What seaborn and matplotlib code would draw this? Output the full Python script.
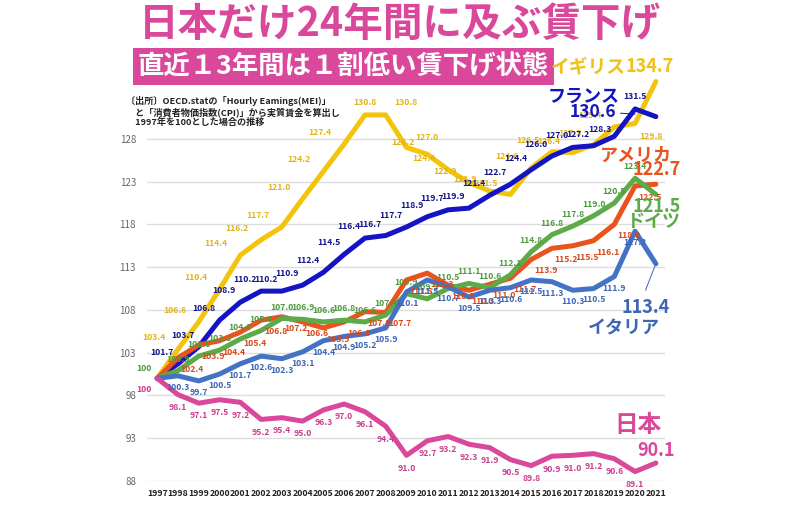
import matplotlib
matplotlib.use("Agg")
import matplotlib.pyplot as plt
import seaborn as sns
import pandas as pd
import numpy as np

years = list(range(1997, 2022))
japan = [100, 98.1, 97.1, 97.5, 97.2, 95.2, 95.4, 95.0, 96.3, 97.0, 96.1, 94.4, 91.0,
         92.7, 93.2, 92.3, 91.9, 90.5, 89.8, 90.9, 91.0, 91.2, 90.6, 89.1, 90.1]
italy = [100, 100.3, 99.7, 100.5, 101.7, 102.6, 102.3, 103.1, 104.4, 104.9, 105.2, 105.9, 110.1,
         111.5, 110.7, 109.5, 110.3, 110.6, 111.5, 111.3, 110.3, 110.5, 111.9, 117.2, 113.4]
france = [100, 101.7, 103.7, 106.8, 108.9, 110.2, 110.2, 110.9, 112.4, 114.5, 116.4, 116.7, 117.7,
          118.9, 119.7, 119.9, 121.4, 122.7, 124.4, 126.0, 127.0, 127.2, 128.3, 131.5, 130.6]
uk = [100, 103.4, 106.6, 110.4, 114.4, 116.2, 117.7, 121.0, 124.2, 127.4, 130.8, 130.8, 127.0,
      126.2, 124.4, 122.9, 121.9, 121.5, 124.6, 126.5, 126.4, 127.3, 129.4, 129.8, 134.7]
usa = [100, 102.4, 103.9, 104.4, 105.4, 106.8, 107.2, 106.6, 105.9, 106.6, 107.8, 107.7, 111.5,
       112.3, 110.9, 110.3, 111.0, 111.7, 113.9, 115.2, 115.5, 116.1, 118.0, 122.5, 122.7]
germany = [100, 100.9, 102.6, 103.3, 104.6, 105.6, 107.0, 106.9, 106.6, 106.8, 106.6, 107.4, 109.9,
           109.3, 110.5, 111.1, 110.6, 112.1, 114.8, 116.8, 117.8, 119.0, 120.5, 123.4, 121.5]

countries = ["イギリス", "フランス", "アメリカ", "ドイツ", "イタリア", "日本"]
series = [uk, france, usa, germany, italy, japan]
line_colors = ["#F2C40C", "#1414C4", "#E8531E", "#5CAA48", "#4472C4", "#D9489A"]
label_colors = ["#E3B31A", "#14148C", "#D8481A", "#4E9A3C", "#3D66B4", "#CC3F8E"]
yticks = [88, 93, 98, 103, 108, 113, 118, 123, 128]

df = pd.DataFrame({
    "year": years * len(countries),
    "value": sum(series, []),
    "country": sum([[c] * len(years) for c in countries], []),
})

sns.set_theme(style="white")
plt.rcParams["font.family"] = ["Noto Sans CJK JP", "DejaVu Sans"]

fig = plt.figure(figsize=(8, 5.13), dpi=100)
ax = fig.add_axes([0.184, 0.0624, 0.647, 0.7836])

sns.lineplot(data=df, x="year", y="value", hue="country", hue_order=countries,
             palette=dict(zip(countries, line_colors)), linewidth=3.6, ax=ax,
             legend=False, zorder=3)

ax.set_xlim(1996.52, 2021.43)
ax.set_ylim(88, 135)
ax.set_yticks(yticks)
ax.set_xticks(years)
ax.set_xticklabels([str(y) for y in years], fontsize=6.3, fontweight="bold", color="#222222")
ax.tick_params(axis="y", labelsize=7, labelcolor="#666666", length=0, pad=8)
ax.tick_params(axis="x", length=0, pad=6)
for y in yticks:
    ax.axhline(y, color="#DDDDDD", linewidth=1.0, zorder=1)
for s in ax.spines.values():
    s.set_visible(False)
ax.set_xlabel("")
ax.set_ylabel("")
ax.grid(False)

# point labels: offsets (points) per series, with a few per-point overrides
offsets = {
    "イギリス": (-9, 5, "right", "bottom"),
    "フランス": (-3, 5, "right", "bottom"),
    "アメリカ": (2, -5, "left", "top"),
    "ドイツ": (0, 5, "center", "bottom"),
    "イタリア": (0, -5, "center", "top"),
    "日本": (0, -6, "center", "top"),
}
overrides = {
    ("イギリス", 2007): (0, 6, "center", "bottom"),
    ("イギリス", 2008): (6, 6, "left", "bottom"),
    ("イギリス", 2009): (6, 4, "left", "bottom"),
    ("イギリス", 2020): (3, -6, "left", "top"),
    ("フランス", 2019): (-2, 2, "right", "bottom"),
    ("フランス", 2020): (0, 6, "center", "bottom"),
}
for name, vals, lc in zip(countries, series, label_colors):
    for i, (yr, v) in enumerate(zip(years, vals)):
        if i == 0 or i == len(years) - 1:
            continue
        dx, dy, ha, va = overrides.get((name, yr), offsets[name])
        ax.annotate(f"{v:.1f}", (yr, v), xytext=(dx, dy), textcoords="offset points",
                    ha=ha, va=va, fontsize=6.2, fontweight="bold", color=lc, zorder=5)

ax.annotate("100", (1997, 100), xytext=(-4, 4), textcoords="offset points", ha="right",
            va="bottom", fontsize=6.2, fontweight="bold", color=label_colors[3])
ax.annotate("100", (1997, 100), xytext=(-4, -5), textcoords="offset points", ha="right",
            va="top", fontsize=6.2, fontweight="bold", color=label_colors[5])

# Titles
fig.text(0.5, 0.93, "日本だけ24年間に及ぶ賃下げ", ha="center", va="baseline",
         fontsize=28.5, fontweight="bold", color="#D9489A")
fig.text(0.172, 0.87, "直近１3年間は１割低い賃下げ状態", ha="left", va="center",
         fontsize=19, fontweight="bold", color="white",
         bbox=dict(boxstyle="square,pad=0.18", fc="#D9489A", ec="none"))
fig.text(0.688, 0.87, "イギリス", ha="left", va="center", fontsize=13.5,
         fontweight="bold", color="#EFC11A")
fig.text(0.782, 0.87, "134.7", ha="left", va="center", fontsize=13,
         fontweight="bold", color="#EFC11A")

fig.text(0.157, 0.812,
         "〔出所〕OECD.statの「Hourly Eamings(MEI)」\n　と「消費者物価指数(CPI)」から実質賃金を算出し\n　1997年を100とした場合の推移",
         ha="left", va="top", fontsize=6.6, fontweight="bold", color="#222222", linespacing=1.1)

# End labels
fig.text(0.685, 0.813, "フランス", ha="left", va="center", fontsize=13,
         fontweight="bold", color="#1414C4")
fig.text(0.712, 0.782, "130.6", ha="left", va="center", fontsize=12.5,
         fontweight="bold", color="#1414C4")
ax.plot([2019.3, 2020.0], [131.0, 130.9], color="#1414C4", lw=0.7, zorder=4)
fig.text(0.75, 0.698, "アメリカ", ha="left", va="center", fontsize=13,
         fontweight="bold", color="#E8531E")
fig.text(0.79, 0.67, "122.7", ha="left", va="center", fontsize=13,
         fontweight="bold", color="#E8531E")
fig.text(0.79, 0.598, "121.5", ha="left", va="center", fontsize=13,
         fontweight="bold", color="#5CAA48")
fig.text(0.783, 0.569, "ドイツ", ha="left", va="center", fontsize=13,
         fontweight="bold", color="#5CAA48")
fig.text(0.777, 0.40, "113.4", ha="left", va="center", fontsize=13,
         fontweight="bold", color="#3D66B4")
fig.text(0.735, 0.36, "イタリア", ha="left", va="center", fontsize=13,
         fontweight="bold", color="#3D66B4")
ax.plot([2020.5, 2021.0], [110.3, 113.4], color="#3D66B4", lw=0.7, zorder=4)
fig.text(0.768, 0.172, "日本", ha="left", va="center", fontsize=17,
         fontweight="bold", color="#D9489A")
fig.text(0.797, 0.121, "90.1", ha="left", va="center", fontsize=13,
         fontweight="bold", color="#D9489A")

fig.savefig("out.png", dpi=100)
